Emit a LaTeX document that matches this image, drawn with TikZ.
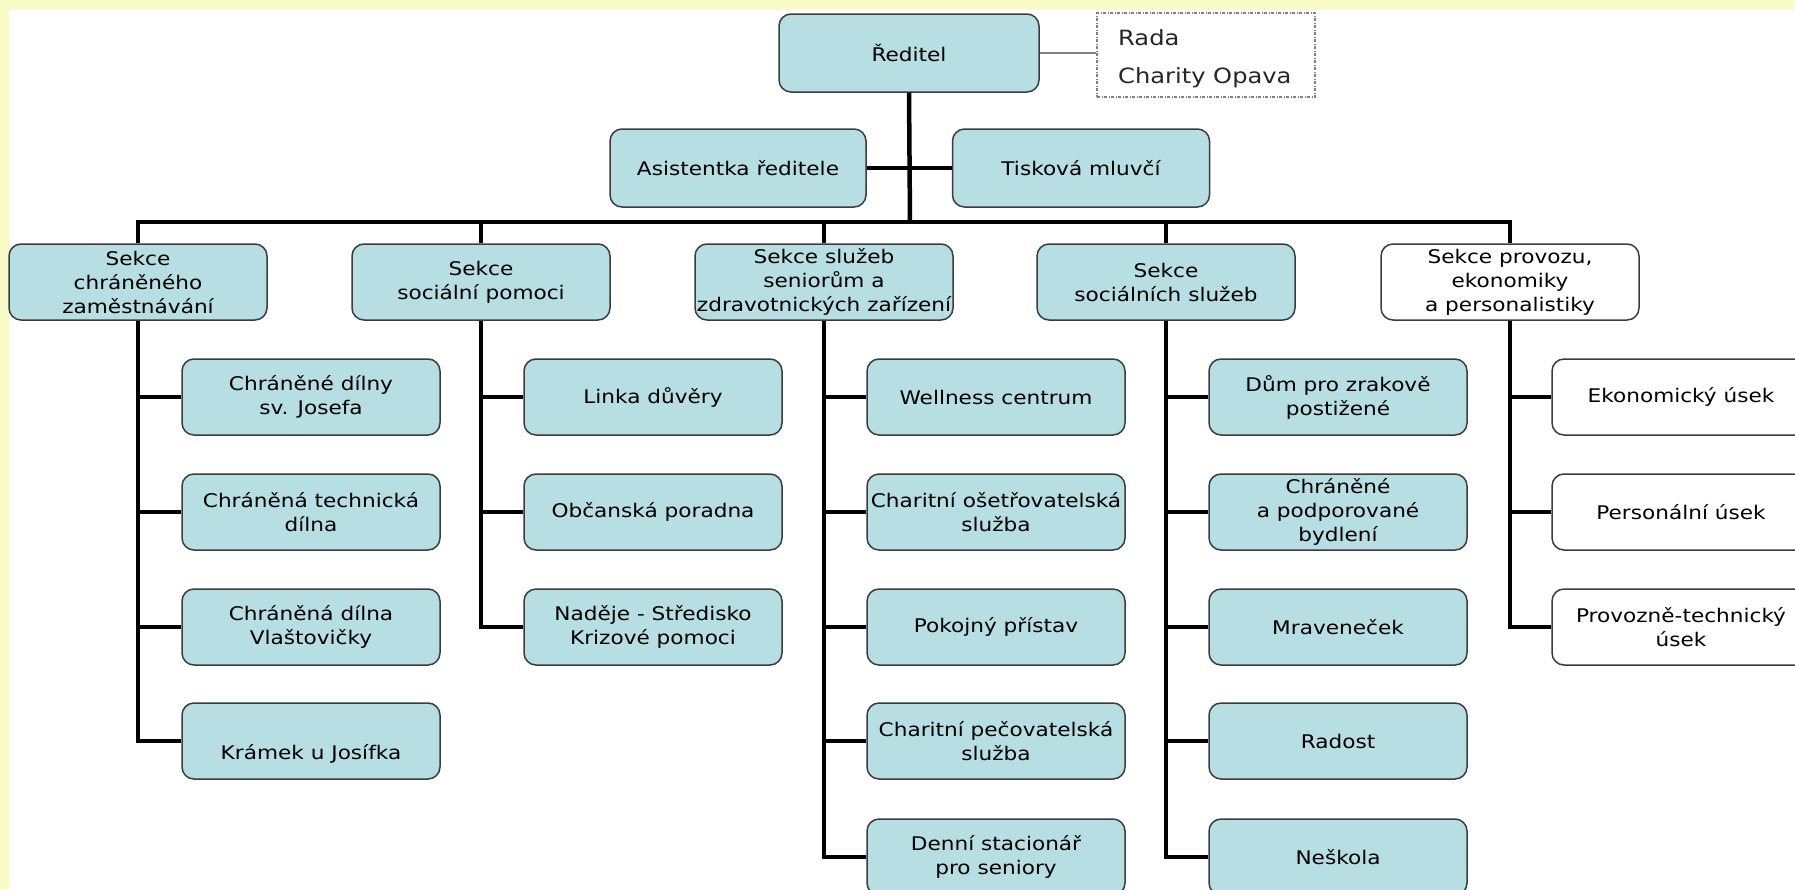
\documentclass[tikz,border=0pt]{standalone}
\usepackage{fontspec}
\setmainfont{DejaVu Sans}[FakeStretch=1.15]
\definecolor{yellowbg}{RGB}{250,252,200}
\definecolor{boxfill}{RGB}{183,222,226}
\definecolor{boxline}{RGB}{60,60,60}
\tikzset{
  orgbox/.style={draw=boxline, line width=1.5pt, rounded corners=12pt, fill=boxfill,
    minimum width=258pt, minimum height=76pt, inner sep=0pt, align=center,
    font=\fontsize{18.8}{24}\selectfont},
  wbox/.style={orgbox, fill=white},
  conn/.style={line width=4.5pt, black},
  thinconn/.style={line width=1.5pt, gray},
  plain/.style={inner sep=0pt, font=\fontsize{21}{26}\selectfont, text=black!85}
}
\begin{document}
\begin{tikzpicture}[x=1pt,y=-1pt]
\useasboundingbox (0,0) rectangle (1795,889);
\fill[yellowbg] (0,0) rectangle (1795,889);
\fill[white] (9,10) rectangle (1795,889);

% top
\node[orgbox, minimum width=260pt, minimum height=78pt] (dir) at (909,53) {Ředitel};
\node[draw=gray, line width=1.2pt, dash pattern=on 3pt off 1.5pt on 1pt off 1.5pt,
      minimum width=218pt, minimum height=84pt, inner sep=0pt] (rada) at (1206,55) {};
\node[plain, anchor=west] (radat1) at (1118,38) {Rada};
\node[plain, anchor=west] (radat2) at (1118,78) {Charity Opava};
\node[orgbox, minimum width=256pt, minimum height=78pt] (asi) at (738,168) {Asistentka ředitele};
\node[orgbox, minimum width=257pt, minimum height=78pt] (tis) at (1081,168) {Tisková mluvčí};
\coordinate (bus) at (910,222);

% sections
\node[orgbox] (s1) at (138,282) {Sekce\\chráněného\\zaměstnávání};
\node[orgbox] (s2) at (481,282) {Sekce\\sociální pomoci};
\node[orgbox] (s3) at (824,282) {Sekce služeb\\seniorům a\\\makebox[0pt]{zdravotnických zařízení}};
\node[orgbox] (s4) at (1166,282) {Sekce\\sociálních služeb};
\node[wbox] (s5) at (1510,282) {Sekce provozu,\\ekonomiky\\a personalistiky};

% column 1
\node[orgbox] (c11) at (311,397) {Chráněné dílny\\sv. Josefa};
\node[orgbox] (c12) at (311,512) {Chráněná technická\\dílna};
\node[orgbox] (c13) at (311,627) {Chráněná dílna\\Vlaštovičky};
\node[orgbox] (c14) at (311,741) {\strut\\Krámek u Josífka};

% column 2
\node[orgbox] (c21) at (653,397) {Linka důvěry};
\node[orgbox] (c22) at (653,512) {Občanská poradna};
\node[orgbox] (c23) at (653,627) {Naděje - Středisko\\Krizové pomoci};

% column 3
\node[orgbox] (c31) at (996,397) {Wellness centrum};
\node[orgbox] (c32) at (996,512) {Charitní ošetřovatelská\\služba};
\node[orgbox] (c33) at (996,627) {Pokojný přístav};
\node[orgbox] (c34) at (996,741) {Charitní pečovatelská\\služba};
\node[orgbox] (c35) at (996,857) {Denní stacionář\\pro seniory};

% column 4
\node[orgbox] (c41) at (1338,397) {Dům pro zrakově\\postižené};
\node[orgbox] (c42) at (1338,512) {Chráněné\\a podporované\\bydlení};
\node[orgbox] (c43) at (1338,627) {Mraveneček};
\node[orgbox] (c44) at (1338,741) {Radost};
\node[orgbox] (c45) at (1338,857) {Neškola};

% column 5
\node[wbox] (c51) at (1681,397) {Ekonomický úsek};
\node[wbox] (c52) at (1681,512) {Personální úsek};
\node[wbox] (c53) at (1681,627) {Provozně-technický\\úsek};

% connectors top
\draw[thinconn] (dir.east) -- (rada.west |- dir.east);
\draw[conn] (dir.south) -- (bus);
\draw[conn] (asi.east) -- (tis.west);
\draw[conn] (s1.north) |- (bus) -| (s5.north);
\draw[conn] (s2.north) -- (s2.north |- bus);
\draw[conn] (s3.north) -- (s3.north |- bus);
\draw[conn] (s4.north) -- (s4.north |- bus);

% column connectors
\draw[conn] (s1.south) |- (c14.west);
\foreach \c in {c11,c12,c13} \draw[conn] (s1.south |- \c.west) -- (\c.west);
\draw[conn] (s2.south) |- (c23.west);
\foreach \c in {c21,c22} \draw[conn] (s2.south |- \c.west) -- (\c.west);
\draw[conn] (s3.south) |- (c35.west);
\foreach \c in {c31,c32,c33,c34} \draw[conn] (s3.south |- \c.west) -- (\c.west);
\draw[conn] (s4.south) |- (c45.west);
\foreach \c in {c41,c42,c43,c44} \draw[conn] (s4.south |- \c.west) -- (\c.west);
\draw[conn] (s5.south) |- (c53.west);
\foreach \c in {c51,c52} \draw[conn] (s5.south |- \c.west) -- (\c.west);
\end{tikzpicture}
\end{document}
